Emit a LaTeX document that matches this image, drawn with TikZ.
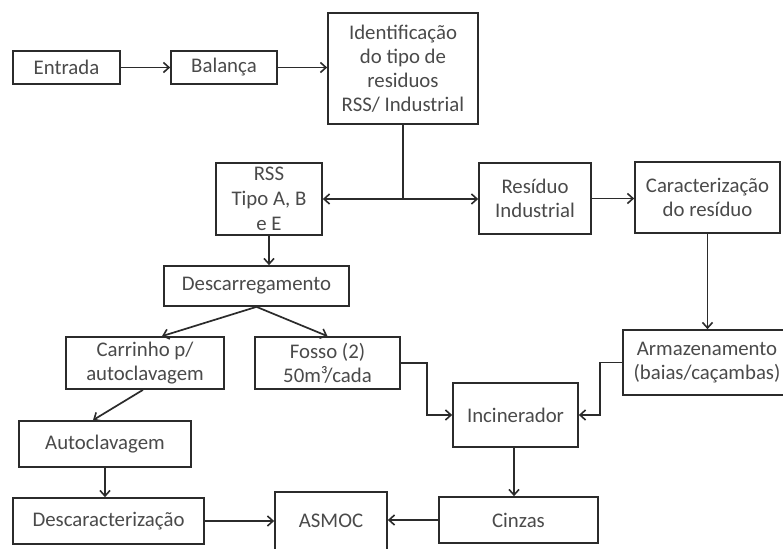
\documentclass[tikz,border=0pt]{standalone}
\usepackage{fontspec}
\setmainfont{Carlito}
\usetikzlibrary{arrows.meta,calc}
\definecolor{ln}{HTML}{2B2B2B}
\definecolor{tx}{HTML}{4A4A4A}
\tikzset{
  box/.style={draw=ln,line width=1.7pt,fill=white,align=center,text=tx,
    font=\fontsize{20.8}{24}\selectfont,inner sep=0pt},
  conn/.style={draw=ln,line width=1.7pt},
  arr/.style={conn,-{Straight Barb[length=5.5pt,width=10pt,line width=1.6pt]}}
}
\begin{document}
\begin{tikzpicture}[x=1pt,y=-1pt]
\clip (0,0) rectangle (783,548);
\fill[white] (0,0) rectangle (783,548);
\node[box,minimum width=107,minimum height=33] (ent) at (66.5,67.5) {Entrada};
\node[box,minimum width=106,minimum height=33] (bal) at (224,67.5) {Balança};
\node[box,minimum width=150,minimum height=111] (ide) at (403,68.5) {Identificação\\do tipo de\\residuos\\RSS/ Industrial};
\node[box,minimum width=106,minimum height=72,font=\fontsize{20.8}{25}\selectfont] (rss) at (269,199) {RSS\\Tipo A, B\\e E};
\node[box,minimum width=112,minimum height=71] (res) at (535,198.5) {Resíduo\\Industrial};
\node[box,minimum width=145,minimum height=71] (car) at (707.5,197.5) {Caracterização\\do resíduo};
\node[box,minimum width=185,minimum height=40] (des) at (256.5,286) {Descarregamento};
\node[box,minimum width=158,minimum height=52] (crr) at (145,363) {Carrinho p/\\autoclavagem};
\node[box,minimum width=145,minimum height=52] (fos) at (327.5,363) {Fosso (2)\\50m³/cada};
\node[box,minimum width=168,minimum height=65] (arm) at (707,362.5) {Armazenamento\\(baias/caçambas)};
\node[box,minimum width=125,minimum height=64] (inc) at (515.5,415) {Incinerador};
\node[box,minimum width=172,minimum height=46] (aut) at (105,444) {Autoclavagem};
\node[box,minimum width=191,minimum height=46] (dsc) at (108.5,521) {Descaracterização};
\node[box,minimum width=112,minimum height=58] (asm) at (331,521) {ASMOC};
\node[box,minimum width=159,minimum height=46] (cin) at (518.5,520) {Cinzas};
\coordinate (split) at (ide.south |- rss.east);
\draw[arr] (ent.east) -- (bal.west);
\draw[arr] (bal.east) -- (bal.east -| ide.west);
\draw[conn] (ide.south) -- (split);
\draw[arr] (split) -- (rss.east);
\draw[arr] (split) -- (split -| res.west);
\draw[arr] (res.east) -- (res.east -| car.west);
\draw[arr] (car.south) -- (car.south |- arm.north);
\draw[arr] (rss.south) -- (rss.south |- des.north);
\draw[arr] (des.south) -- ($(crr.north)+(17,0)$);
\draw[arr] (des.south) -- (fos.north);
\draw[arr] ($(crr.south)+(-2,0)$) -- ($(aut.north)+(-12,0)$);
\draw[arr] (aut.south) -- (aut.south |- dsc.north);
\draw[arr] (dsc.east) -- (dsc.east -| asm.west);
\draw[arr] (cin.west) -- (cin.west -| asm.east);
\draw[arr] ($(inc.south)+(-1.5,0)$) -- ($(inc.south |- cin.north)+(-1.5,0)$);
\draw[arr] (fos.east) -- ++(26,0) |- (inc.west);
\draw[arr] (arm.west) -- ++(-22,0) |- (inc.east);
\end{tikzpicture}
\end{document}
